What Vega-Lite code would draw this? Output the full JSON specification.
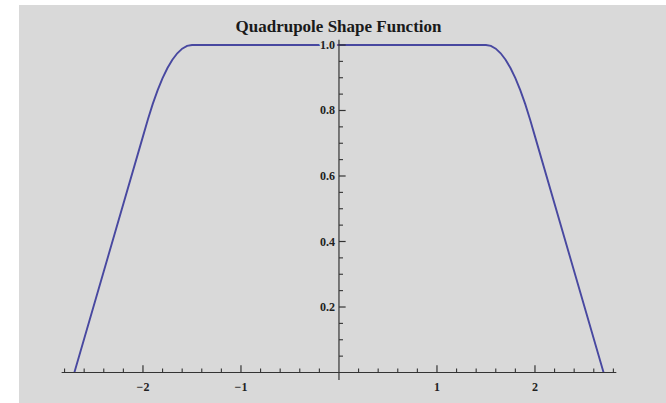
{
  "$schema": "https://vega.github.io/schema/vega-lite/v6.json",
  "width": 647,
  "height": 398,
  "autosize": {"type": "none"},
  "padding": {"left": 19, "top": 5, "right": 0, "bottom": 0},
  "background": "#ffffff",
  "title": {
    "text": "Quadrupole Shape Function",
    "font": "Liberation Serif",
    "fontSize": 17,
    "fontWeight": "bold",
    "color": "#1a1a1a",
    "anchor": "middle",
    "baseline": "alphabetic",
    "offset": -44,
    "dx": -4
  },
  "config": {
    "view": {"fill": "#d9d9d9", "stroke": null},
    "text": {"font": "Liberation Serif", "fontSize": 12, "color": "#222222"}
  },
  "datasets": {
    "curve": [
      {"x": -2.7, "y": 0},
      {"x": -2.0, "y": 0.721},
      {"x": -1.95, "y": 0.7724},
      {"x": -1.9, "y": 0.8202},
      {"x": -1.85, "y": 0.8623},
      {"x": -1.8, "y": 0.8988},
      {"x": -1.75, "y": 0.9298},
      {"x": -1.7, "y": 0.955},
      {"x": -1.65, "y": 0.9747},
      {"x": -1.6, "y": 0.9888},
      {"x": -1.55, "y": 0.9972},
      {"x": -1.5, "y": 1},
      {"x": 1.5, "y": 1},
      {"x": 1.55, "y": 0.9972},
      {"x": 1.6, "y": 0.9888},
      {"x": 1.65, "y": 0.9747},
      {"x": 1.7, "y": 0.955},
      {"x": 1.75, "y": 0.9298},
      {"x": 1.8, "y": 0.8988},
      {"x": 1.85, "y": 0.8623},
      {"x": 1.9, "y": 0.8202},
      {"x": 1.95, "y": 0.7724},
      {"x": 2.0, "y": 0.721},
      {"x": 2.7, "y": 0}
    ],
    "xMajor": [{"v": -2}, {"v": -1}, {"v": 1}, {"v": 2}],
    "xMinor": [
      {"v": -2.8}, {"v": -2.6}, {"v": -2.4}, {"v": -2.2},
      {"v": -1.8}, {"v": -1.6}, {"v": -1.4}, {"v": -1.2},
      {"v": -0.8}, {"v": -0.6}, {"v": -0.4}, {"v": -0.2},
      {"v": 0.2}, {"v": 0.4}, {"v": 0.6}, {"v": 0.8},
      {"v": 1.2}, {"v": 1.4}, {"v": 1.6}, {"v": 1.8},
      {"v": 2.2}, {"v": 2.4}, {"v": 2.6}, {"v": 2.8}
    ],
    "yMajor": [{"v": 0.2}, {"v": 0.4}, {"v": 0.6}, {"v": 0.8}, {"v": 1.0}],
    "yMinor": [
      {"v": 0.05}, {"v": 0.1}, {"v": 0.15},
      {"v": 0.25}, {"v": 0.3}, {"v": 0.35},
      {"v": 0.45}, {"v": 0.5}, {"v": 0.55},
      {"v": 0.65}, {"v": 0.7}, {"v": 0.75},
      {"v": 0.85}, {"v": 0.9}, {"v": 0.95}
    ],
    "one": [{}]
  },
  "layer": [
    {
      "data": {"name": "curve"},
      "mark": {"type": "line", "color": "#4848a0", "strokeWidth": 1.9, "clip": false},
      "encoding": {
        "x": {"field": "x", "type": "quantitative", "scale": {"domain": [-3.265, 3.337], "nice": false, "zero": false}, "axis": null},
        "y": {"field": "y", "type": "quantitative", "scale": {"domain": [-0.0931, 1.1221], "nice": false, "zero": false}, "axis": null}
      }
    },
    {
      "data": {"name": "one"},
      "mark": {"type": "rule", "color": "#333333", "strokeWidth": 1.2},
      "encoding": {
        "x": {"datum": -2.83, "type": "quantitative", "scale": {"domain": [-3.265, 3.337], "nice": false, "zero": false}, "axis": null},
        "x2": {"datum": 2.83},
        "y": {"datum": 0, "type": "quantitative", "scale": {"domain": [-0.0931, 1.1221], "nice": false, "zero": false}, "axis": null}
      }
    },
    {
      "data": {"name": "one"},
      "mark": {"type": "rule", "color": "#333333", "strokeWidth": 1.2},
      "encoding": {
        "x": {"datum": 0, "type": "quantitative", "scale": {"domain": [-3.265, 3.337], "nice": false, "zero": false}, "axis": null},
        "y": {"datum": -0.023, "type": "quantitative", "scale": {"domain": [-0.0931, 1.1221], "nice": false, "zero": false}, "axis": null},
        "y2": {"datum": 1.016}
      }
    },
    {
      "data": {"name": "xMajor"},
      "mark": {"type": "rule", "color": "#333333", "strokeWidth": 1.2},
      "encoding": {
        "x": {"field": "v", "type": "quantitative", "scale": {"domain": [-3.265, 3.337], "nice": false, "zero": false}, "axis": null},
        "y": {"datum": 0, "type": "quantitative", "scale": {"domain": [-0.0931, 1.1221], "nice": false, "zero": false}, "axis": null},
        "y2": {"datum": 0.0223}
      }
    },
    {
      "data": {"name": "xMinor"},
      "mark": {"type": "rule", "color": "#333333", "strokeWidth": 1.1},
      "encoding": {
        "x": {"field": "v", "type": "quantitative", "scale": {"domain": [-3.265, 3.337], "nice": false, "zero": false}, "axis": null},
        "y": {"datum": 0, "type": "quantitative", "scale": {"domain": [-0.0931, 1.1221], "nice": false, "zero": false}, "axis": null},
        "y2": {"datum": 0.0122}
      }
    },
    {
      "data": {"name": "yMajor"},
      "mark": {"type": "rule", "color": "#333333", "strokeWidth": 1.2},
      "encoding": {
        "x": {"datum": 0, "type": "quantitative", "scale": {"domain": [-3.265, 3.337], "nice": false, "zero": false}, "axis": null},
        "x2": {"datum": 0.068},
        "y": {"field": "v", "type": "quantitative", "scale": {"domain": [-0.0931, 1.1221], "nice": false, "zero": false}, "axis": null}
      }
    },
    {
      "data": {"name": "yMinor"},
      "mark": {"type": "rule", "color": "#333333", "strokeWidth": 1.1},
      "encoding": {
        "x": {"datum": 0, "type": "quantitative", "scale": {"domain": [-3.265, 3.337], "nice": false, "zero": false}, "axis": null},
        "x2": {"datum": 0.041},
        "y": {"field": "v", "type": "quantitative", "scale": {"domain": [-0.0931, 1.1221], "nice": false, "zero": false}, "axis": null}
      }
    },
    {
      "data": {"name": "xMajor"},
      "mark": {"type": "text", "align": "center", "baseline": "middle", "dy": 14, "fontWeight": "bold"},
      "encoding": {
        "x": {"field": "v", "type": "quantitative", "scale": {"domain": [-3.265, 3.337], "nice": false, "zero": false}, "axis": null},
        "y": {"datum": 0, "type": "quantitative", "scale": {"domain": [-0.0931, 1.1221], "nice": false, "zero": false}, "axis": null},
        "text": {"field": "v", "type": "quantitative", "format": ".0f"}
      }
    },
    {
      "data": {"name": "yMajor"},
      "mark": {"type": "text", "align": "right", "baseline": "middle", "dx": -4, "fontWeight": "bold", "stroke": "#d9d9d9", "strokeWidth": 5, "strokeJoin": "round"},
      "encoding": {
        "x": {"datum": 0, "type": "quantitative", "scale": {"domain": [-3.265, 3.337], "nice": false, "zero": false}, "axis": null},
        "y": {"field": "v", "type": "quantitative", "scale": {"domain": [-0.0931, 1.1221], "nice": false, "zero": false}, "axis": null},
        "text": {"field": "v", "type": "quantitative", "format": ".1f"}
      }
    },
    {
      "data": {"name": "yMajor"},
      "mark": {"type": "text", "align": "right", "baseline": "middle", "dx": -4, "fontWeight": "bold"},
      "encoding": {
        "x": {"datum": 0, "type": "quantitative", "scale": {"domain": [-3.265, 3.337], "nice": false, "zero": false}, "axis": null},
        "y": {"field": "v", "type": "quantitative", "scale": {"domain": [-0.0931, 1.1221], "nice": false, "zero": false}, "axis": null},
        "text": {"field": "v", "type": "quantitative", "format": ".1f"}
      }
    }
  ]
}
